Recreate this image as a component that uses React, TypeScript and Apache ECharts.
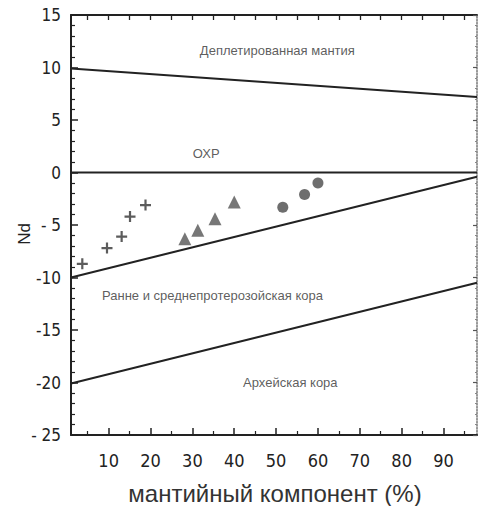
import React, { useEffect, useRef } from "react";
import * as echarts from "echarts";

const xMajorTicks = [10, 20, 30, 40, 50, 60, 70, 80, 90];
const xMinorTicks = [5, 15, 25, 35, 45, 55, 65, 75, 85, 95];
const yTickLabels: Record<string, string> = {
  "15": "15", "10": "10", "5": "5", "0": "0", "-5": "- 5",
  "-10": "-10", "-15": "-15", "-20": "-20", "-25": "- 25",
};
const xTitle = "мантийный компонент (%)";
const yTitle = "Nd";

const depletedMantleLine = [[1, 9.9], [98, 7.2]];
const morbLine = [[1, 0], [98, 0]];
const proterozoicLine = [[1, -10], [98, -0.4]];
const archeanLine = [[1, -20.1], [98, -10.5]];

const crosses = [[3.7, -8.7], [9.6, -7.2], [13.1, -6.1], [15.1, -4.2], [18.8, -3.1]];
const triangles = [[28.2, -6.3], [31.3, -5.5], [35.4, -4.4], [40.0, -2.8]];
const circles = [[51.6, -3.3], [56.8, -2.1], [60.0, -1.0]];

const regionLabels = [
  { name: "Деплетированная мантия", value: [50.3, 11.6] },
  { name: "ОХР", value: [33.3, 1.8] },
  { name: "Ранне и среднепротерозойская кора", value: [34.8, -11.7] },
  { name: "Архейская кора", value: [53.4, -20.0] },
];

const INK = "#222";
const NARROW = "'Liberation Sans Narrow', 'DejaVu Sans Condensed', 'Liberation Sans', sans-serif";
const SANS = "'Liberation Sans', Arial, sans-serif";

export default function App() {
  const ref = useRef<HTMLDivElement>(null);
  useEffect(() => {
    if (!ref.current) return;
    const chart = echarts.init(ref.current, null, { renderer: "svg" });
    const topTicks = [...xMajorTicks, ...xMinorTicks].sort((a, b) => a - b);
    const lineSeries = (data: number[][]) => ({
      type: "line",
      data,
      symbol: "none",
      lineStyle: { color: INK, width: 2 },
      silent: true,
      z: 2,
    });
    chart.setOption({
      animation: false,
      backgroundColor: "#fff",
      grid: { left: 71, right: 3, top: 15, bottom: 71 },
      xAxis: [
        {
          type: "value", position: "bottom", min: 1, max: 98, splitLine: { show: false },
          axisLine: { show: true, onZero: false, lineStyle: { color: INK, width: 2 } },
          axisTick: { show: true, inside: true, length: 7, customValues: xMajorTicks, lineStyle: { color: INK, width: 1.5 } },
          axisLabel: { customValues: xMajorTicks, margin: 16, color: INK, fontSize: 18, fontFamily: NARROW },
        },
        {
          type: "value", position: "bottom", min: 1, max: 98, splitLine: { show: false },
          axisLine: { show: false, onZero: false },
          axisTick: { show: true, inside: true, length: 4, customValues: xMinorTicks, lineStyle: { color: INK, width: 1.2 } },
          axisLabel: { show: false, customValues: xMinorTicks },
        },
        {
          type: "value", position: "top", min: 1, max: 98, splitLine: { show: false },
          axisLine: { show: true, onZero: false, lineStyle: { color: INK, width: 2 } },
          axisTick: { show: true, inside: true, length: 5, customValues: topTicks, lineStyle: { color: INK, width: 1.3 } },
          axisLabel: { show: false, customValues: topTicks },
        },
      ],
      yAxis: [
        {
          type: "value", position: "left", min: -25, max: 15, interval: 5, splitLine: { show: false },
          axisLine: { show: true, onZero: false, lineStyle: { color: INK, width: 2 } },
          axisTick: { show: true, inside: true, length: 7, lineStyle: { color: INK, width: 1.5 } },
          minorTick: { show: true, splitNumber: 5, length: 4, lineStyle: { color: INK, width: 1.2 } },
          axisLabel: {
            margin: 10, color: INK, fontSize: 17, fontFamily: NARROW,
            formatter: (v: number) => yTickLabels[String(v)] ?? String(v),
          },
        },
        {
          type: "value", position: "right", min: -25, max: 15, interval: 5, splitLine: { show: false },
          axisLine: { show: true, onZero: false, lineStyle: { color: "#777", width: 1.5, type: "dotted" } },
          axisTick: { show: true, inside: true, length: 4, lineStyle: { color: "#555", width: 1.2 } },
          minorTick: { show: true, splitNumber: 5, length: 2, lineStyle: { color: "#888", width: 1 } },
          axisLabel: { show: false },
        },
      ],
      graphic: [
        {
          type: "text", x: 24, y: 234, rotation: Math.PI / 2,
          style: { text: yTitle, align: "center", verticalAlign: "middle", fill: INK, fontSize: 17, fontFamily: SANS },
        },
        {
          type: "text", x: 275, y: 493,
          style: { text: xTitle, align: "center", verticalAlign: "middle", fill: "#333", fontSize: 24, fontFamily: SANS },
        },
      ],
      series: [
        lineSeries(depletedMantleLine),
        lineSeries(morbLine),
        lineSeries(proterozoicLine),
        lineSeries(archeanLine),
        {
          type: "scatter", data: crosses,
          symbol: "path://M4,0H6V4H10V6H6V10H4V6H0V4H4Z", symbolSize: 11,
          itemStyle: { color: "#333" }, z: 3,
        },
        {
          type: "scatter", data: triangles, symbol: "triangle", symbolSize: 13,
          itemStyle: { color: "#555" }, z: 3,
        },
        {
          type: "scatter", data: circles, symbol: "circle", symbolSize: 11,
          itemStyle: { color: "#4a4a4a" }, z: 3,
        },
        {
          type: "scatter", data: regionLabels, symbolSize: 0, silent: true, z: 4,
          label: {
            show: true, position: "inside", formatter: "{b}",
            color: "#333", fontSize: 13, fontFamily: SANS,
          },
        },
      ],
    });
    return () => chart.dispose();
  }, []);
  return <div ref={ref} style={{ width: 480, height: 506, position: "absolute", left: 0, top: 0 }} />;
}
